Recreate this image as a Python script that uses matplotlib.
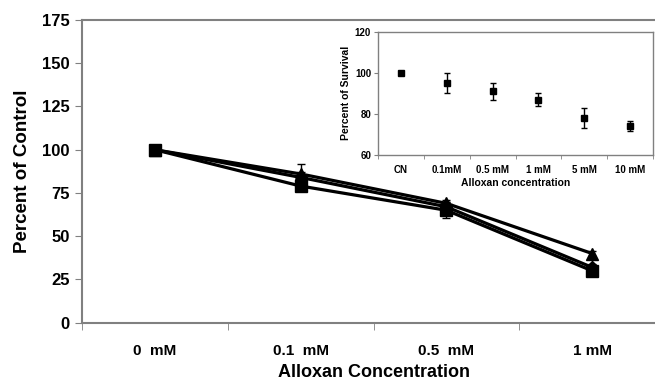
import matplotlib
matplotlib.use("Agg")
import matplotlib.pyplot as plt
import numpy as np

plt.rcParams['font.family'] = ['Liberation Sans', 'DejaVu Sans']

# Main chart data
categories = ["0  mM", "0.1  mM", "0.5  mM", "1 mM"]
series_triangle = [100, 86, 69, 40]
series_diamond = [100, 84, 67, 32]
series_square = [100, 79, 65, 30]
err_triangle = [0, 5.5, 2, 1.5]
err_diamond = [0, 3, 3, 2]
err_square = [0, 2, 4.5, 1.5]

# Inset data
inset_categories = ["CN", "0.1mM", "0.5 mM", "1 mM", "5 mM", "10 mM"]
inset_values = [100, 95, 91, 87, 78, 74.2]
inset_errors = [0, 5, 4, 3, 5, 2.5]

fig = plt.figure(figsize=(6.55, 3.81), dpi=100)
ax = fig.add_axes([82/655, 1 - 322.7/381, 583/655, 302.7/381])

grey = '#808080'
x = np.arange(len(categories))
for vals, errs, m, ms in [(series_square, err_square, 's', 8.5),
                          (series_diamond, err_diamond, 'D', 6.5),
                          (series_triangle, err_triangle, '^', 8.5)]:
    ax.errorbar(x, vals, yerr=errs, color='black', lw=2.3, marker=m,
                markersize=ms, capsize=3, elinewidth=1, capthick=1)

ax.set_xlim(-0.5, len(categories) - 0.5)
ax.set_ylim(0, 175)
ax.set_yticks(np.arange(0, 176, 25))
ax.set_xticks(x)
ax.set_xticklabels(categories, fontsize=11, fontweight='bold')
ax.set_xticks(np.arange(-0.5, len(categories), 1), minor=True)
ax.tick_params(axis='x', which='major', length=0, pad=15)
ax.tick_params(axis='x', which='minor', length=5, color=grey, direction='out')
ax.tick_params(axis='y', length=5, color=grey, direction='out', labelsize=12, pad=4)
for lab in ax.get_yticklabels():
    lab.set_fontweight('bold')
for s in ['left', 'top', 'bottom', 'right']:
    ax.spines[s].set_color(grey)
    ax.spines[s].set_linewidth(1.5)
ax.set_ylabel("Percent of Control", fontsize=13.5, fontweight='bold', labelpad=8)
ax.set_xlabel("Alloxan Concentration", fontsize=13, fontweight='bold', labelpad=5)

# Inset
ins = fig.add_axes([378/655, 1 - 155/381, 275/655, 123.3/381])
xi = np.arange(len(inset_categories))
ins.errorbar(xi, inset_values, yerr=inset_errors, color='black', lw=0,
             marker='s', markersize=4, capsize=2.5, elinewidth=1, capthick=1,
             ls='none')
ins.set_xlim(-0.5, len(inset_categories) - 0.5)
ins.set_ylim(60, 120)
ins.set_yticks([60, 80, 100, 120])
ins.set_xticks(xi)
ins.set_xticklabels(inset_categories, fontsize=7, fontweight='bold')
ins.set_xticks(np.arange(-0.5, len(inset_categories), 1), minor=True)
ins.tick_params(axis='x', which='major', length=0, pad=7)
ins.tick_params(axis='x', which='minor', length=3, color=grey, direction='out')
ins.tick_params(axis='y', length=3, color=grey, direction='out', labelsize=7, pad=2)
for lab in ins.get_yticklabels():
    lab.set_fontweight('bold')
for s in ['left', 'top', 'bottom', 'right']:
    ins.spines[s].set_color(grey)
    ins.spines[s].set_linewidth(1)
ins.set_ylabel("Percent of Survival", fontsize=7.5, fontweight='bold', labelpad=3)
ins.set_xlabel("Alloxan concentration", fontsize=7.5, fontweight='bold', labelpad=2)

fig.savefig("out.png", dpi=100)
